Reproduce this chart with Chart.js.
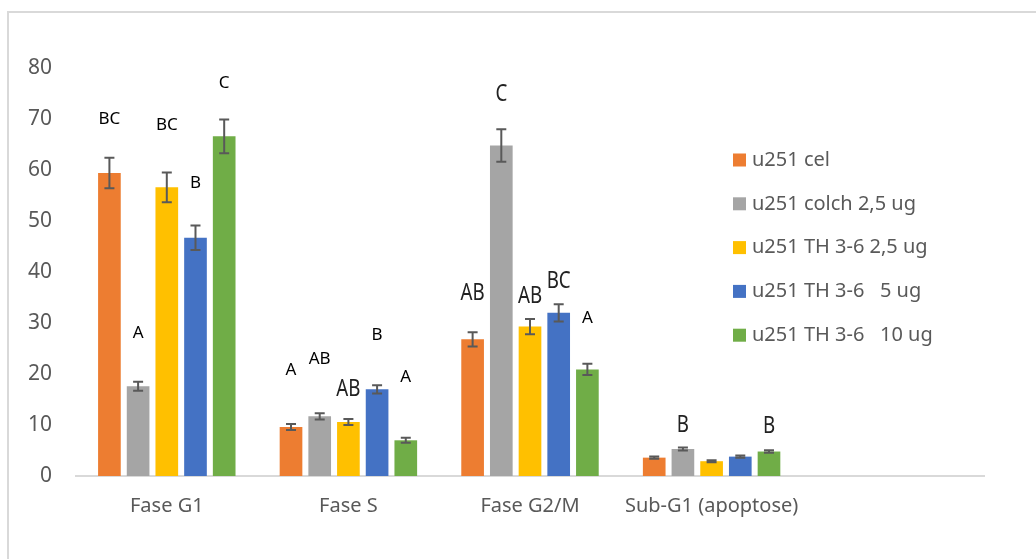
<!DOCTYPE html>
<html>
<head>
<meta charset="utf-8">
<script src="https://cdn.jsdelivr.net/npm/chart.js@4/dist/chart.umd.min.js"></script>
<style>
  html, body { margin: 0; padding: 0; background: #fff; }
  #wrap { position: relative; width: 1036px; height: 559px; overflow: hidden; }
  #frame { position: absolute; left: 7px; top: 11px; width: 1100px; height: 600px;
           border-left: 2px solid #d9d9d9; border-top: 2px solid #d9d9d9; }
  canvas { position: absolute; left: 0; top: 0; }
</style>
</head>
<body>
<div id="wrap">
  <div id="frame"></div>
  <canvas id="cycle" width="1036" height="559"></canvas>
</div>
<script>
// categories (last one is the empty slot Excel leaves on the axis)
const categories = ['Fase G1', 'Fase S', 'Fase G2/M', 'Sub-G1 (apoptose)', ''];

const seriesNames = ['u251 cel', 'u251 colch 2,5 ug', 'u251 TH 3-6 2,5 ug', 'u251 TH 3-6   5 ug', 'u251 TH 3-6   10 ug'];

// bar heights (%)
const celValues   = [59.4, 9.6, 26.8, 3.6];
const colchValues = [17.6, 11.7, 64.8, 5.3];
const th25Values  = [56.6, 10.6, 29.3, 2.9];
const th5Values   = [46.7, 17.0, 32.0, 3.8];
const th10Values  = [66.6, 7.0, 20.9, 4.8];

// error bar half-widths
const celErr   = [3.0, 0.6, 1.4, 0.2];
const colchErr = [0.9, 0.6, 3.2, 0.3];
const th25Err  = [2.9, 0.6, 1.5, 0.2];
const th5Err   = [2.4, 0.8, 1.7, 0.2];
const th10Err  = [3.3, 0.5, 1.1, 0.25];

// significance letters
const celLetters   = ['BC', 'A', 'AB', ''];
const colchLetters = ['A', 'AB', 'C', 'B'];
const th25Letters  = ['BC', 'AB', 'AB', ''];
const th5Letters   = ['B', 'B', 'BC', ''];
const th10Letters  = ['C', 'A', 'A', 'B'];

const yTicks = [0, 10, 20, 30, 40, 50, 60, 70, 80];

// label placement / style (pixels above the error cap, condensed glyphs)
const letterLift = [
    [39, 54, 39, 0],
    [48, 54, 35, 22],
    [47, 30, 23, 0],
    [42, 50, 23, 0],
    [36, 61, 46, 24]
];
const letterCondensed = [
    [false, false, true, false],
    [false, false, true, true],
    [false, true, true, false],
    [false, false, true, false],
    [false, false, false, true]
];

const colors = ['#ED7D31', '#A5A5A5', '#FFC000', '#4472C4', '#70AD47'];
const values = [celValues, colchValues, th25Values, th5Values, th10Values];
const errors = [celErr, colchErr, th25Err, th5Err, th10Err];
const letters = [celLetters, colchLetters, th25Letters, th5Letters, th10Letters];

const FONT = '"Noto Sans", "Open Sans", sans-serif';
const TEXT = '#595959';

// error bars, letters and legend drawn on top of the bars
const extrasPlugin = {
    id: 'extras',
    afterDatasetsDraw(chart) {
        const ctx = chart.ctx;
        const y = chart.scales.y;
        chart.data.datasets.forEach((ds, di) => {
            const meta = chart.getDatasetMeta(di);
            meta.data.forEach((bar, i) => {
                const v = ds.data[i];
                if (v == null) return;
                const e = errors[di][i];
                const top = y.getPixelForValue(v + e);
                const bot = y.getPixelForValue(v - e);
                ctx.save();
                ctx.strokeStyle = '#595959';
                ctx.lineWidth = 2;
                ctx.beginPath();
                ctx.moveTo(bar.x, top); ctx.lineTo(bar.x, bot);
                ctx.moveTo(bar.x - 5, top); ctx.lineTo(bar.x + 5, top);
                ctx.moveTo(bar.x - 5, bot); ctx.lineTo(bar.x + 5, bot);
                ctx.stroke();
                ctx.restore();

                const txt = letters[di][i];
                if (!txt) return;
                const ly = top - letterLift[di][i];
                ctx.save();
                ctx.fillStyle = '#000';
                ctx.textAlign = 'center';
                ctx.textBaseline = 'middle';
                ctx.translate(bar.x, ly);
                if (letterCondensed[di][i]) {
                    ctx.scale(0.78, 1);
                    ctx.fillStyle = '#222';
                    ctx.font = '24px ' + FONT;
                } else {
                    ctx.font = '17px ' + FONT;
                }
                ctx.fillText(txt, 0, 0);
                ctx.restore();
            });
        });

        // legend
        ctx.save();
        ctx.font = '20px ' + FONT;
        ctx.textBaseline = 'middle';
        ctx.textAlign = 'left';
        seriesNames.forEach((name, i) => {
            const cy = 160 + i * 43.8;
            ctx.fillStyle = colors[i];
            ctx.fillRect(733, cy - 6.5, 13, 13);
            ctx.fillStyle = TEXT;
            ctx.fillText(name, 752, cy);
        });
        ctx.restore();
    }
};

new Chart(document.getElementById('cycle'), {
    type: 'bar',
    data: {
        labels: categories,
        datasets: seriesNames.map((name, i) => ({
            label: name,
            data: values[i],
            backgroundColor: colors[i],
            borderWidth: 0,
            barPercentage: 0.79,
            categoryPercentage: 0.79
        }))
    },
    options: {
        responsive: false,
        animation: false,
        layout: { padding: { left: 0, top: 68, right: 52, bottom: 0 } },
        plugins: {
            legend: { display: false },
            tooltip: { enabled: false }
        },
        scales: {
            x: {
                grid: { display: false, drawTicks: false },
                border: { color: '#d9d9d9', width: 2 },
                ticks: { color: TEXT, font: { family: FONT, size: 20 }, padding: 18,
                         maxRotation: 0, minRotation: 0, autoSkip: false },
                afterFit: s => { s.height = 83; }
            },
            y: {
                min: 0,
                max: 80,
                afterBuildTicks: s => { s.ticks = yTicks.map(v => ({ value: v })); },
                grid: { display: false, drawTicks: false },
                border: { display: false },
                ticks: { color: TEXT, font: { family: FONT, size: 21 }, padding: 24 },
                afterFit: s => { s.width = 76; }
            }
        }
    },
    plugins: [extrasPlugin]
});
</script>
</body>
</html>
